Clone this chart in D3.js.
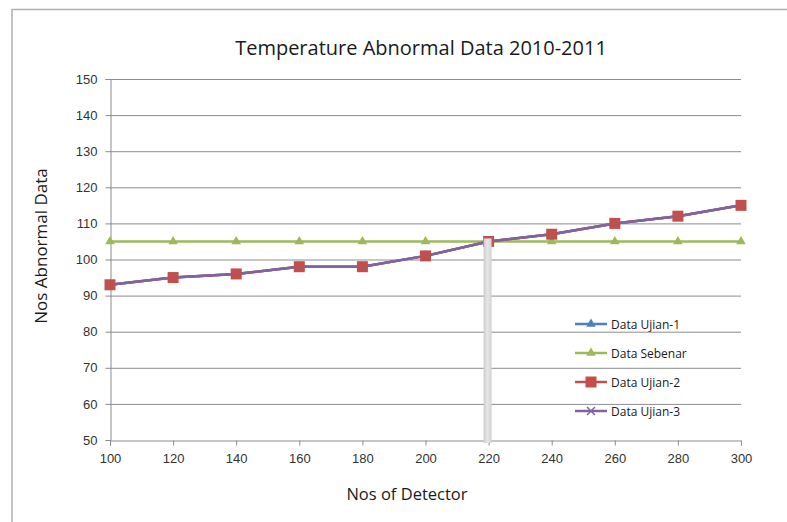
<!DOCTYPE html>
<html><head><meta charset="utf-8">
<script src="https://cdn.jsdelivr.net/npm/d3@7"></script>
<style>body{margin:0;background:#fff;}svg{display:block;font-family:"Open Sans","Liberation Sans",sans-serif;}</style>
</head><body>
<svg id="c" width="787" height="522"></svg>
<script>
const detectors = [100,120,140,160,180,200,220,240,260,280,300];
const dataUjian1 = [93,95,96,98,98,101,105,107,110,112,115];
const dataSebenar = [105,105,105,105,105,105,105,105,105,105,105];
const dataUjian2 = [93,95,96,98,98,101,105,107,110,112,115];
const dataUjian3 = [93,95,96,98,98,101,105,107,110,112,115];
const yTicks = [50,60,70,80,90,100,110,120,130,140,150];
const xTicks = [100,120,140,160,180,200,220,240,260,280,300];
const seriesNames = ["Data Ujian-1","Data Sebenar","Data Ujian-2","Data Ujian-3"];

const svg = d3.select("#c");
const W = 787, H = 522;
// outer frame
svg.append("rect").attr("x",12).attr("y",9.5).attr("width",W).attr("height",H).attr("fill","none").attr("stroke","#b0b0b0").attr("stroke-width",1.5);

const x = d3.scaleLinear().domain([100,300]).range([110,741]);
const y = d3.scaleLinear().domain([50,150]).range([440,79]);

// gridlines
svg.append("g").selectAll("line").data(yTicks.slice(1)).join("line")
  .attr("x1",x(100)).attr("x2",x(300)).attr("y1",d=>y(d)+0.5).attr("y2",d=>y(d)+0.5)
  .attr("stroke","#8c8c8c").attr("stroke-width",1);

// axes
const yAxis = svg.append("g").attr("transform",`translate(${x(100)+0.5},0)`)
  .call(d3.axisLeft(y).tickValues(yTicks).tickSize(5).tickPadding(8));
const xAxis = svg.append("g").attr("transform",`translate(0,${y(50)+0.5})`)
  .call(d3.axisBottom(x).tickValues(xTicks).tickSize(5).tickPadding(8));
[yAxis,xAxis].forEach(a=>{
  a.select(".domain").attr("stroke","#8c8c8c");
  a.selectAll(".tick line").attr("stroke","#8c8c8c");
  a.selectAll("text").attr("fill","#333").style("font-size","13px");
});

// title and axis labels
svg.append("text").attr("x",421).attr("y",55).attr("text-anchor","middle")
  .style("font-size","20px").attr("fill","#1a1a1a").text("Temperature Abnormal Data 2010-2011");
svg.append("text").attr("x",407).attr("y",500).attr("text-anchor","middle")
  .style("font-size","16.5px").attr("fill","#1a1a1a").text("Nos of Detector");
svg.append("text").attr("transform","translate(47,246) rotate(-90)").attr("text-anchor","middle")
  .style("font-size","17px").attr("fill","#1a1a1a").text("Nos Abnormal Data");

const line = d3.line().x((d,i)=>x(detectors[i])).y(d=>y(d));
const colors = ["#4F81BD","#9BBB59","#C0504D","#8064A2"];

function marker(g, type, color, cx, cy){
  if(type==="tri"){
    g.append("path").attr("d",d3.symbol(d3.symbolTriangle,40)()).attr("transform",`translate(${cx},${cy})`).attr("fill",color);
  } else if(type==="sq"){
    g.append("rect").attr("x",cx-5.5).attr("y",cy-5.5).attr("width",11).attr("height",11).attr("fill",color);
  } else if(type==="x"){
    g.append("path").attr("d",`M${cx-4},${cy-4}L${cx+4},${cy+4}M${cx-4},${cy+4}L${cx+4},${cy-4}`).attr("stroke",color).attr("stroke-width",1.5);
  }
}
const types = ["tri","tri","sq","x"];

const gS = svg.append("g");
gS.append("path").datum(dataSebenar).attr("d",line).attr("fill","none").attr("stroke",colors[1]).attr("stroke-width",2.5);
dataSebenar.forEach((v,i)=>marker(gS,"tri",colors[1],x(detectors[i]),y(v)));
gS.append("path").datum(dataUjian1).attr("d",line).attr("fill","none").attr("stroke",colors[0]).attr("stroke-width",2.5);
dataUjian1.forEach((v,i)=>marker(gS,"tri",colors[0],x(detectors[i]),y(v)));
gS.append("path").datum(dataUjian2).attr("d",line).attr("fill","none").attr("stroke",colors[2]).attr("stroke-width",2.5);
gS.append("path").datum(dataUjian3).attr("d",line).attr("fill","none").attr("stroke",colors[3]).attr("stroke-width",2.5);
dataUjian3.forEach((v,i)=>marker(gS,"x",colors[3],x(detectors[i]),y(v)));
dataUjian2.forEach((v,i)=>marker(gS,"sq",colors[2],x(detectors[i]),y(v)));

// gray vertical bar artifact at 220
const grad = svg.append("defs").append("linearGradient").attr("id","gb").attr("x1","0").attr("x2","1");
grad.append("stop").attr("offset","0").attr("stop-color","#cdcdcd");
grad.append("stop").attr("offset","0.5").attr("stop-color","#e6e6e6");
grad.append("stop").attr("offset","1").attr("stop-color","#d2d2d2");
svg.append("rect").attr("x",x(220)-5).attr("y",y(105)-3).attr("width",8).attr("height",y(50)-y(105)+6).attr("fill","url(#gb)");

// legend
const lg = svg.append("g");
const ly = [324,353,382,411];
seriesNames.forEach((n,i)=>{
  lg.append("line").attr("x1",575).attr("x2",607).attr("y1",ly[i]).attr("y2",ly[i]).attr("stroke",colors[i]).attr("stroke-width",2.5);
  marker(lg,types[i],colors[i],591,ly[i]);
  lg.append("text").attr("x",611).attr("y",ly[i]+4.5).style("font-size","12px").attr("fill","#1a1a1a").text(n);
});
</script>
</body></html>
